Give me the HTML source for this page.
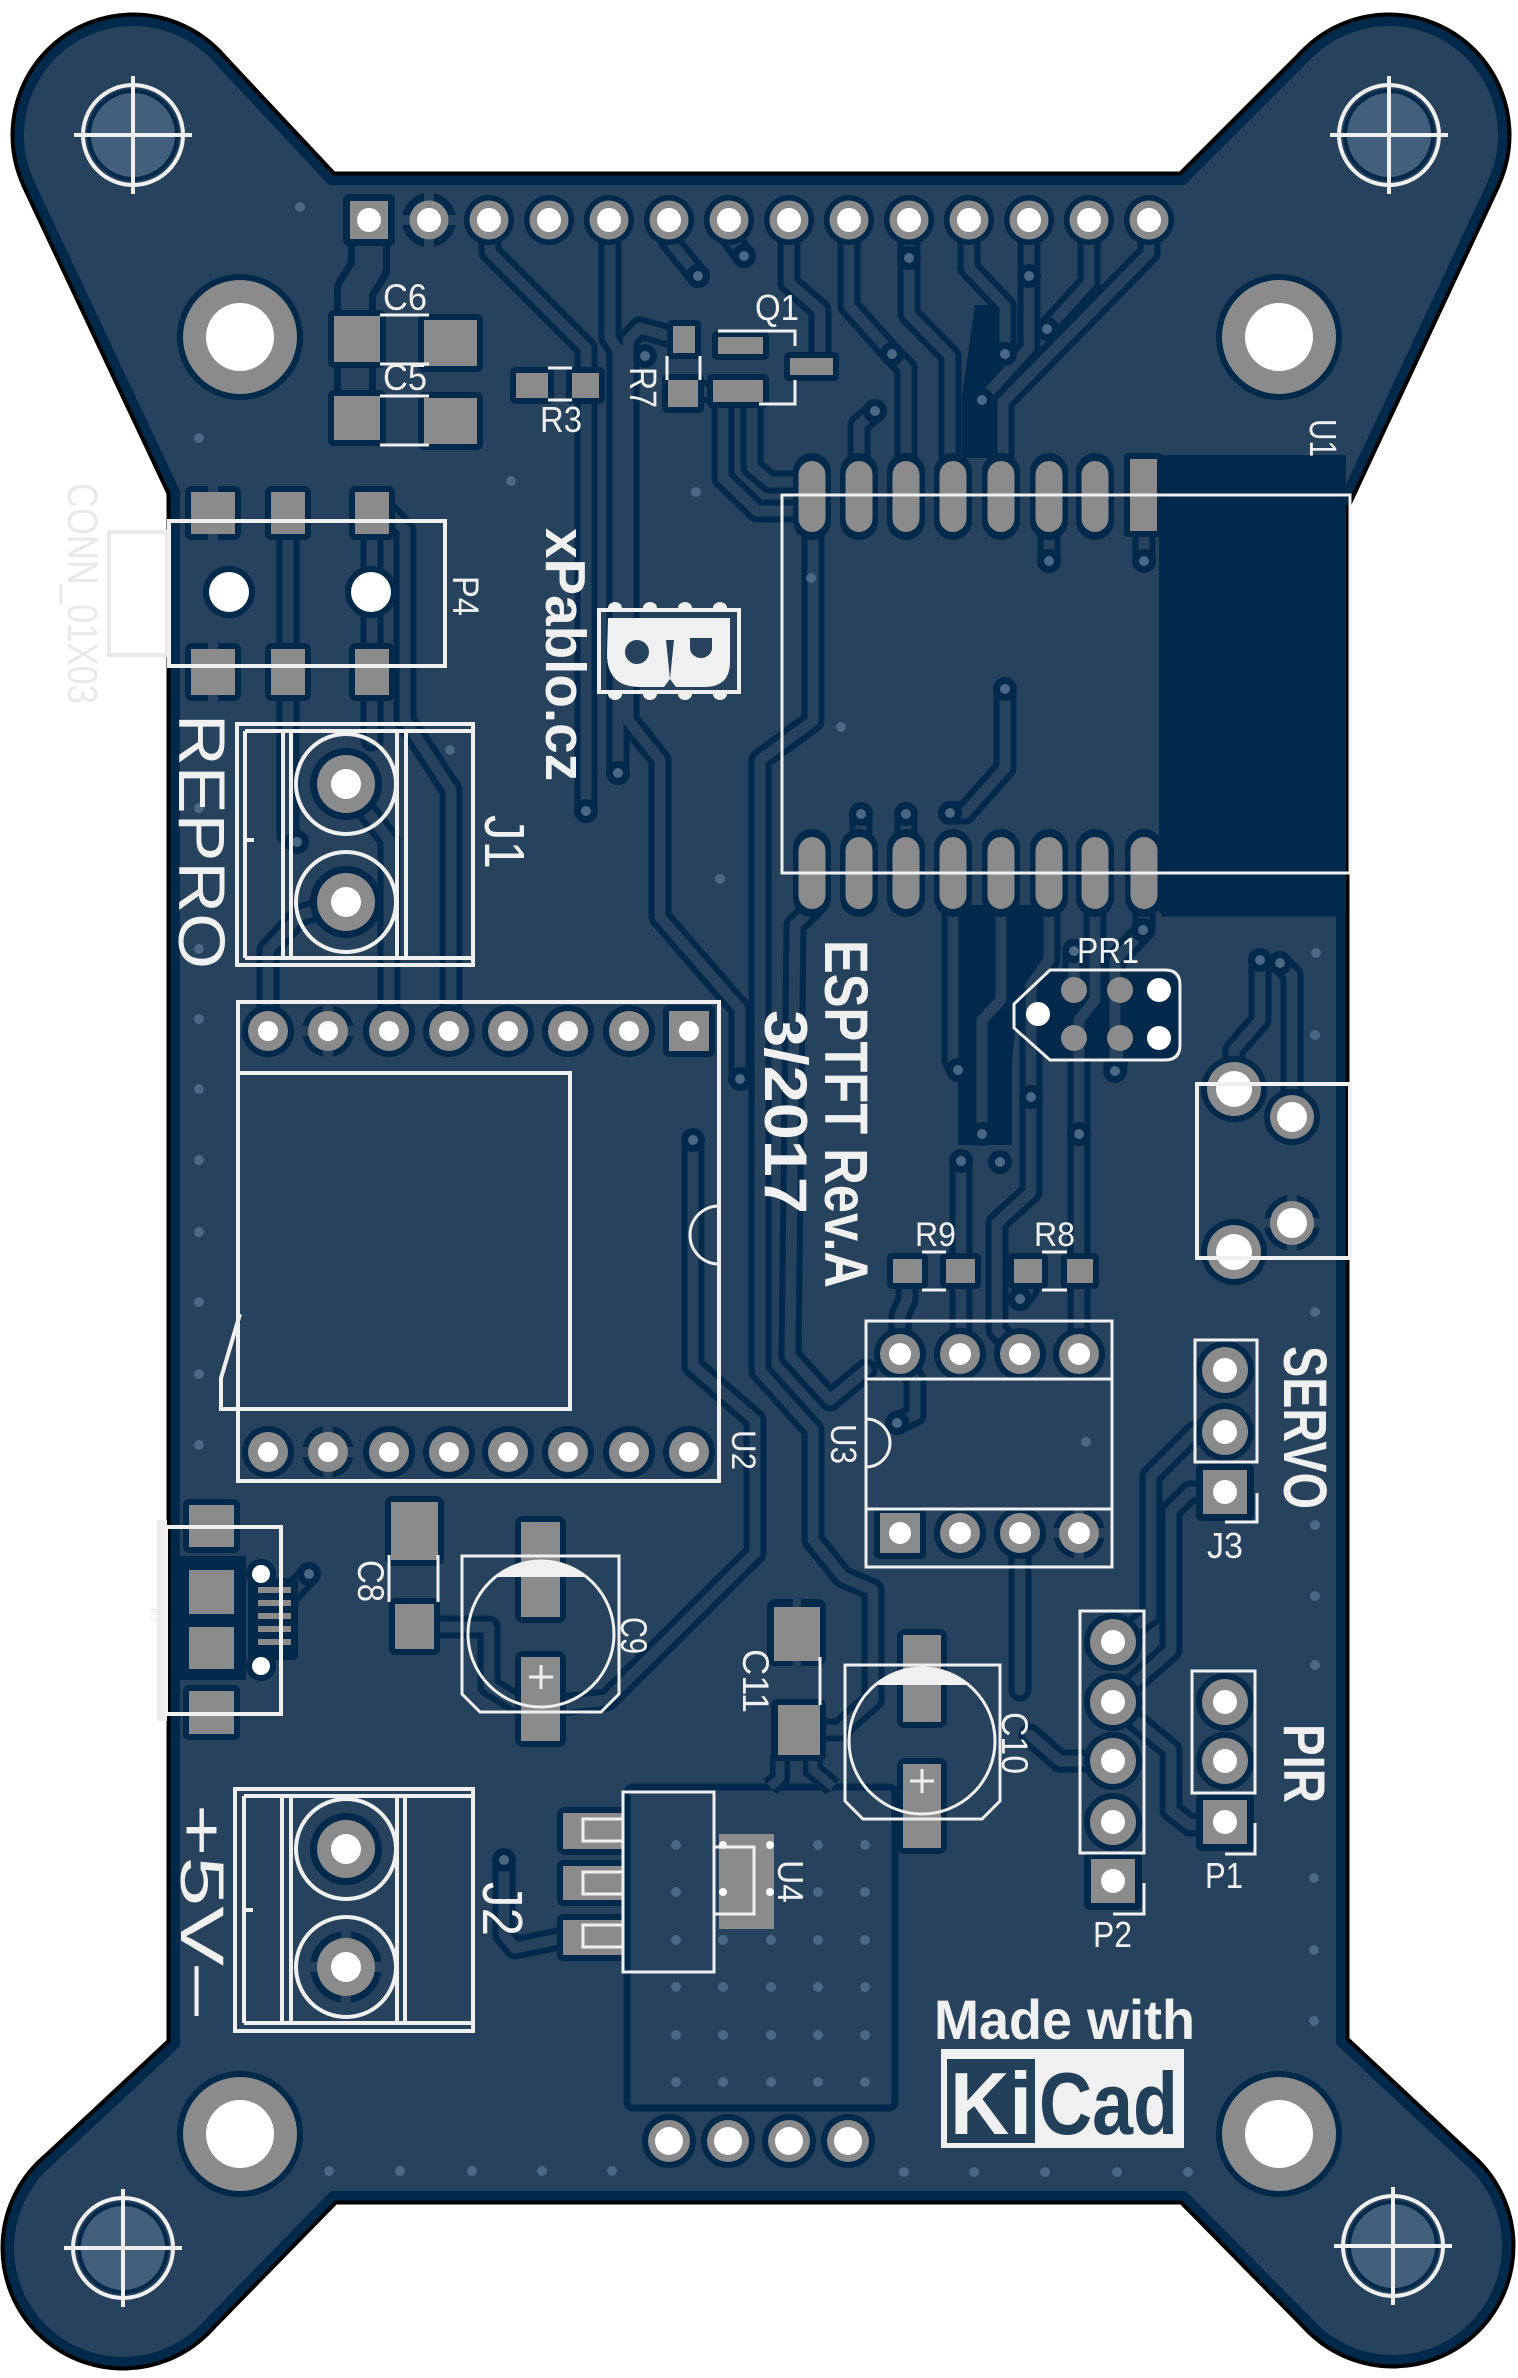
<!DOCTYPE html>
<html><head><meta charset="utf-8"><style>
html,body{margin:0;padding:0;background:#fff;}
svg{display:block;}
text{font-family:"Liberation Sans","DejaVu Sans",sans-serif;fill:#f0f0f0;}
.b{font-weight:bold;}
</style></head><body>
<svg width="1518" height="2378" viewBox="0 0 1518 2378" xmlns="http://www.w3.org/2000/svg">
<defs>
<g id="board">
<rect x="180" y="185" width="1156" height="2006"/>
<circle cx="133" cy="135" r="109"/><polygon points="210,58 329,185 180,491 34,181"/>
<circle cx="1389" cy="135" r="109"/><polygon points="1312,58 1185,185 1336,506 1488,181"/>
<circle cx="1393" cy="2246" r="109"/><polygon points="1470,2169 1336,2044 1186,2191 1316,2323"/>
<circle cx="123" cy="2248" r="109"/><polygon points="46,2171 180,2046 331,2191 200,2325"/>
</g>
<g id="tracks" fill="none" stroke-linejoin="round" stroke-linecap="round">
<path d="M490,220 L490,252 L586,348 L586,811"/>
<path d="M610,220 L610,338 L618,350 L618,773"/>
<path d="M669,220 L669,240 L698,276"/>
<path d="M729,220 L729,236 L744,256"/>
<path d="M789,220 L789,283 L820,310 L820,360"/>
<path d="M849,220 L849,306 L892,354 L906,368 L906,470"/>
<path d="M909,220 L909,314 L950,356 L950,470"/>
<path d="M969,220 L969,268 L1005,306 L1005,354"/>
<path d="M1029,220 L1029,348 L982,400"/>
<path d="M1089,220 L1089,283 L1047,329"/>
<path d="M1149,220 L1149,253 L1003,402 L1003,470"/>
<path d="M875,411 L859,425 L859,470"/>
<path d="M723,392 L723,478 L757,511 L800,511"/>
<path d="M752,392 L752,467 L770,482 L800,482"/>
<path d="M683,340 L640,328 L628,340 L628,720 L660,760 L660,917 L740,1009 L740,1079"/>
<path d="M683,393 L713,391"/>
<path d="M1049,532 L1049,561"/>
<path d="M1144,532 L1144,561"/>
<path d="M861,814 L861,840"/>
<path d="M906,814 L906,840"/>
<path d="M950,813 L965,813 L1005,768 L1005,689"/>
<path d="M953,909 L953,1060 L958,1070"/>
<path d="M1001,909 L1001,1000 L982,1020 L982,1134"/>
<path d="M1049,909 L1049,960 L1031,985 L1031,1192 L997,1223 L997,1330 L1020,1354"/>
<path d="M1095,909 L1095,1000 L1079,1020 L1079,1354"/>
<path d="M1144,909 L1144,930 L1115,960 L1115,1071"/>
<path d="M1280,963 L1292,975 L1292,1117"/>
<path d="M907,1271 L907,1300 L900,1315 L900,1354"/>
<path d="M961,1161 L961,1354"/>
<path d="M1028,1271 L1028,1290 L1020,1299"/>
<path d="M900,1354 L915,1380 L915,1415 L897,1423"/>
<path d="M1020,1533 L1020,1690"/>
<path d="M812,909 L795,925 L790,1356 L830,1400 L866,1370"/>
<path d="M813,532 L813,721 L760,760 L760,1371 L813,1430 L813,1540 L843,1577 L873,1590 L873,1700 L850,1720"/>
<path d="M693,1140 L693,1366 L755,1420 L755,1553 L607,1700 L560,1705"/>
<path d="M1225,1432 L1195,1432 L1151,1476 L1151,1615 L1113,1642"/>
<path d="M1113,1702 L1171,1750 L1171,1810 L1190,1825 L1225,1822"/>
<path d="M1225,1492 L1190,1492 L1171,1511 L1171,1650 L1113,1702"/>
<path d="M1113,1761 L1060,1761 L1030,1735"/>
<path d="M434,1627 L489,1627 L489,1686 L520,1705 L560,1705"/>
<path d="M285,1600 L309,1574"/>
<path d="M504,1860 L504,1935 L515,1948 L563,1938"/>
<path d="M288,513 L288,835 L297,842"/>
<path d="M372,513 L372,740"/>
<path d="M389,513 L405,530 L405,720 L451,790 L451,1031"/>
<path d="M268,1031 L268,950 L300,915 L346,902"/>
<path d="M346,784 L389,840 L389,1031"/>
<path d="M1074,990 L1074,951"/>
<path d="M1120,1038 L1115,1071"/>
<path d="M1234,1089 L1234,1050 L1260,1020 L1260,960"/>
<path d="M820,1730 L840,1730 L850,1720"/>
</g>
</defs>

<!-- board -->
<use href="#board" fill="#000" stroke="#000" stroke-width="27" stroke-linejoin="round"/>
<use href="#board" fill="#00294c" stroke="#00294c" stroke-width="19" stroke-linejoin="round"/>
<use href="#board" fill="#26425c"/>

<!-- dark copper-free regions -->
<g fill="#00294c">
<rect x="1159" y="455" width="187" height="458"/>
<polygon points="975,305 995,305 1012,350 1012,458 962,458 962,395"/>
<polygon points="960,905 1042,905 1042,960 1020,985 1012,1060 1012,1145 958,1145 958,1000"/>
<polygon points="1050,970 1168,970 1182,984 1182,1046 1168,1060 1050,1060 1014,1030 1014,1000"/>
<rect x="174" y="1556" width="72" height="124"/>
</g>
<rect x="627" y="1787" width="268" height="321" rx="6" fill="none" stroke="#00294c" stroke-width="7"/>
<path d="M1161,913 L1340,913" stroke="#00294c" stroke-width="7"/>
<path d="M780,1755 L780,1778 L770,1787 M813,1755 L813,1770 L833,1787" fill="none" stroke="#00294c" stroke-width="20"/>
<path d="M780,1755 L780,1778 L770,1787 M813,1755 L813,1770 L833,1787" fill="none" stroke="#26425c" stroke-width="9"/>

<!-- tracks -->
<path d="M369,238 L369,268 L355,290 L355,440" fill="none" stroke="#00294c" stroke-width="42" stroke-linejoin="round"/>
<path d="M369,238 L369,268 L355,290 L355,440" fill="none" stroke="#26425c" stroke-width="28" stroke-linejoin="round"/>
<use href="#tracks" stroke="#00294c" stroke-width="23"/>
<use href="#tracks" stroke="#26425c" stroke-width="11"/>

<!-- vias with clearance -->
<g fill="#00294c">
<circle cx="586" cy="811" r="12"/><circle cx="618" cy="773" r="12"/><circle cx="698" cy="276" r="12"/><circle cx="744" cy="256" r="12"/>
<circle cx="892" cy="354" r="12"/><circle cx="909" cy="258" r="12"/><circle cx="1005" cy="354" r="12"/><circle cx="1029" cy="276" r="12"/>
<circle cx="982" cy="400" r="12"/><circle cx="1047" cy="329" r="12"/><circle cx="875" cy="411" r="12"/><circle cx="740" cy="1079" r="12"/>
<circle cx="1049" cy="561" r="12"/><circle cx="1144" cy="561" r="12"/><circle cx="861" cy="814" r="12"/><circle cx="906" cy="814" r="12"/>
<circle cx="950" cy="813" r="12"/><circle cx="1005" cy="689" r="12"/><circle cx="958" cy="1070" r="12"/><circle cx="982" cy="1134" r="12"/>
<circle cx="1031" cy="1097" r="12"/><circle cx="1079" cy="1134" r="12"/><circle cx="961" cy="1161" r="12"/><circle cx="1000" cy="1162" r="12"/>
<circle cx="1115" cy="1071" r="12"/><circle cx="1143" cy="930" r="12"/><circle cx="1074" cy="951" r="12"/><circle cx="1280" cy="963" r="12"/>
<circle cx="1020" cy="1299" r="12"/><circle cx="897" cy="1423" r="12"/><circle cx="693" cy="1140" r="12"/><circle cx="297" cy="842" r="12"/>
<circle cx="309" cy="1574" r="12"/><circle cx="504" cy="1860" r="12"/><circle cx="645" cy="356" r="12"/><circle cx="1260" cy="960" r="12"/>
</g>
<g fill="#4b6985">
<circle cx="586" cy="811" r="5"/><circle cx="618" cy="773" r="5"/><circle cx="698" cy="276" r="5"/><circle cx="744" cy="256" r="5"/>
<circle cx="892" cy="354" r="5"/><circle cx="909" cy="258" r="5"/><circle cx="1005" cy="354" r="5"/><circle cx="1029" cy="276" r="5"/>
<circle cx="982" cy="400" r="5"/><circle cx="1047" cy="329" r="5"/><circle cx="875" cy="411" r="5"/><circle cx="740" cy="1079" r="5"/>
<circle cx="1049" cy="561" r="5"/><circle cx="1144" cy="561" r="5"/><circle cx="861" cy="814" r="5"/><circle cx="906" cy="814" r="5"/>
<circle cx="950" cy="813" r="5"/><circle cx="1005" cy="689" r="5"/><circle cx="958" cy="1070" r="5"/><circle cx="982" cy="1134" r="5"/>
<circle cx="1031" cy="1097" r="5"/><circle cx="1079" cy="1134" r="5"/><circle cx="961" cy="1161" r="5"/><circle cx="1000" cy="1162" r="5"/>
<circle cx="1115" cy="1071" r="5"/><circle cx="1143" cy="930" r="5"/><circle cx="1074" cy="951" r="5"/><circle cx="1280" cy="963" r="5"/>
<circle cx="1020" cy="1299" r="5"/><circle cx="897" cy="1423" r="5"/><circle cx="693" cy="1140" r="5"/><circle cx="297" cy="842" r="5"/>
<circle cx="309" cy="1574" r="5"/><circle cx="504" cy="1860" r="5"/><circle cx="645" cy="356" r="5"/><circle cx="1260" cy="960" r="5"/>
<circle cx="300" cy="207" r="5"/><circle cx="199" cy="438" r="5"/><circle cx="511" cy="481" r="5"/><circle cx="696" cy="492" r="5"/>
<circle cx="811" cy="578" r="5"/><circle cx="841" cy="727" r="5"/><circle cx="720" cy="879" r="5"/><circle cx="450" cy="750" r="5"/>
<circle cx="199" cy="808" r="5"/><circle cx="199" cy="949" r="5"/><circle cx="199" cy="1019" r="5"/><circle cx="199" cy="1089" r="5"/>
<circle cx="199" cy="1160" r="5"/><circle cx="199" cy="1232" r="5"/><circle cx="199" cy="1302" r="5"/><circle cx="199" cy="1374" r="5"/>
<circle cx="199" cy="1445" r="5"/><circle cx="1316" cy="953" r="5"/><circle cx="1315" cy="1035" r="5"/><circle cx="1315" cy="1312" r="5"/>
<circle cx="1315" cy="1525" r="5"/><circle cx="1315" cy="1596" r="5"/><circle cx="1315" cy="1665" r="5"/><circle cx="1314" cy="1878" r="5"/>
<circle cx="1314" cy="1950" r="5"/><circle cx="1314" cy="2021" r="5"/><circle cx="1086" cy="1442" r="5"/>
<circle cx="329" cy="2171" r="5"/><circle cx="400" cy="2171" r="5"/><circle cx="472" cy="2171" r="5"/><circle cx="542" cy="2171" r="5"/><circle cx="612" cy="2171" r="5"/>
<circle cx="904" cy="2172" r="5"/><circle cx="974" cy="2172" r="5"/><circle cx="1045" cy="2172" r="5"/><circle cx="1117" cy="2172" r="5"/><circle cx="1188" cy="2172" r="5"/>
<circle cx="676" cy="1845" r="5"/><circle cx="676" cy="1892" r="5"/><circle cx="676" cy="1940" r="5"/><circle cx="676" cy="1987" r="5"/><circle cx="676" cy="2035" r="5"/><circle cx="676" cy="2082" r="5"/>
<circle cx="723" cy="1940" r="5"/><circle cx="723" cy="1987" r="5"/><circle cx="723" cy="2035" r="5"/><circle cx="723" cy="2082" r="5"/>
<circle cx="771" cy="1940" r="5"/><circle cx="771" cy="1987" r="5"/><circle cx="771" cy="2035" r="5"/><circle cx="771" cy="2082" r="5"/>
<circle cx="818" cy="1845" r="5"/><circle cx="818" cy="1892" r="5"/><circle cx="818" cy="1940" r="5"/><circle cx="818" cy="1987" r="5"/><circle cx="818" cy="2035" r="5"/><circle cx="818" cy="2082" r="5"/>
<circle cx="865" cy="1845" r="5"/><circle cx="865" cy="1892" r="5"/><circle cx="865" cy="1940" r="5"/><circle cx="865" cy="1987" r="5"/><circle cx="865" cy="2035" r="5"/><circle cx="865" cy="2082" r="5"/>
</g>

<!-- HEADER top row -->
<g>
<rect x="343" y="194" width="52" height="52" rx="6" fill="#00294c"/>
<rect x="350" y="201" width="38" height="38" fill="#8b8b8b"/><circle cx="369" cy="220" r="12" fill="#fff"/>
<circle cx="429" cy="220" r="27" fill="#00294c"/>
<rect x="424" y="193" width="10" height="54" fill="#26425c"/><rect x="402" y="215" width="54" height="10" fill="#26425c"/>
<circle cx="429" cy="220" r="19.5" fill="#8b8b8b"/><circle cx="429" cy="220" r="12" fill="#fff"/>
</g>
<g fill="#00294c">
<circle cx="489" cy="220" r="25"/><circle cx="549" cy="220" r="25"/><circle cx="609" cy="220" r="25"/><circle cx="669" cy="220" r="25"/>
<circle cx="729" cy="220" r="25"/><circle cx="789" cy="220" r="25"/><circle cx="849" cy="220" r="25"/><circle cx="909" cy="220" r="25"/>
<circle cx="969" cy="220" r="25"/><circle cx="1029" cy="220" r="25"/><circle cx="1089" cy="220" r="25"/><circle cx="1149" cy="220" r="25"/>
</g>
<g fill="#8b8b8b">
<circle cx="489" cy="220" r="19.5"/><circle cx="549" cy="220" r="19.5"/><circle cx="609" cy="220" r="19.5"/><circle cx="669" cy="220" r="19.5"/>
<circle cx="729" cy="220" r="19.5"/><circle cx="789" cy="220" r="19.5"/><circle cx="849" cy="220" r="19.5"/><circle cx="909" cy="220" r="19.5"/>
<circle cx="969" cy="220" r="19.5"/><circle cx="1029" cy="220" r="19.5"/><circle cx="1089" cy="220" r="19.5"/><circle cx="1149" cy="220" r="19.5"/>
</g>
<g fill="#fff">
<circle cx="489" cy="220" r="12"/><circle cx="549" cy="220" r="12"/><circle cx="609" cy="220" r="12"/><circle cx="669" cy="220" r="12"/>
<circle cx="729" cy="220" r="12"/><circle cx="789" cy="220" r="12"/><circle cx="849" cy="220" r="12"/><circle cx="909" cy="220" r="12"/>
<circle cx="969" cy="220" r="12"/><circle cx="1029" cy="220" r="12"/><circle cx="1089" cy="220" r="12"/><circle cx="1149" cy="220" r="12"/>
</g>

<!-- SMD pads: C6 C5 R3 Q1 R7 -->
<g fill="#00294c">
<rect x="328" y="310" width="58" height="58" rx="6"/><rect x="418" y="314" width="65" height="58" rx="6"/>
<rect x="328" y="390" width="58" height="56" rx="6"/><rect x="418" y="392" width="65" height="58" rx="6"/>
<rect x="510" y="367" width="44" height="37" rx="6"/><rect x="566" y="367" width="39" height="37" rx="5"/>
<rect x="712" y="331" width="57" height="29" rx="5"/><rect x="707" y="374" width="62" height="34" rx="5"/><rect x="784" y="352" width="55" height="29" rx="5"/>
<rect x="667" y="320" width="34" height="39" rx="5"/><rect x="662" y="374" width="42" height="39" rx="5"/>
</g>
<g fill="#8b8b8b">
<rect x="334" y="316" width="46" height="46"/><rect x="424" y="320" width="53" height="46"/>
<rect x="334" y="396" width="46" height="44"/><rect x="424" y="398" width="53" height="46"/>
<rect x="516" y="373" width="32" height="25"/><rect x="572" y="373" width="27" height="25"/>
<rect x="718" y="337" width="45" height="17"/><rect x="713" y="380" width="50" height="22"/><rect x="790" y="358" width="43" height="17"/>
<rect x="673" y="326" width="22" height="27"/><rect x="668" y="380" width="30" height="27"/>
</g>

<!-- U1 pads -->
<g fill="#00294c">
<rect x="793" y="453" width="38" height="87" rx="19"/><rect x="840" y="453" width="38" height="87" rx="19"/><rect x="887" y="453" width="38" height="87" rx="19"/><rect x="934" y="453" width="38" height="87" rx="19"/>
<rect x="982" y="453" width="38" height="87" rx="19"/><rect x="1030" y="453" width="38" height="87" rx="19"/><rect x="1076" y="453" width="38" height="87" rx="19"/><rect x="1124" y="453" width="39" height="84" rx="4"/>
<rect x="793" y="829" width="38" height="88" rx="19"/><rect x="840" y="829" width="38" height="88" rx="19"/><rect x="887" y="829" width="38" height="88" rx="19"/><rect x="934" y="829" width="38" height="88" rx="19"/>
<rect x="982" y="829" width="38" height="88" rx="19"/><rect x="1030" y="829" width="38" height="88" rx="19"/><rect x="1076" y="829" width="38" height="88" rx="19"/><rect x="1125" y="829" width="38" height="88" rx="19"/>
</g>
<g fill="#8b8b8b">
<rect x="798.5" y="461" width="27" height="71" rx="13.5"/><rect x="845.5" y="461" width="27" height="71" rx="13.5"/><rect x="892.5" y="461" width="27" height="71" rx="13.5"/><rect x="939.5" y="461" width="27" height="71" rx="13.5"/>
<rect x="987.5" y="461" width="27" height="71" rx="13.5"/><rect x="1035.5" y="461" width="27" height="71" rx="13.5"/><rect x="1081.5" y="461" width="27" height="71" rx="13.5"/><rect x="1130" y="459" width="27" height="72"/>
<rect x="798.5" y="837" width="27" height="72" rx="13.5"/><rect x="845.5" y="837" width="27" height="72" rx="13.5"/><rect x="892.5" y="837" width="27" height="72" rx="13.5"/><rect x="939.5" y="837" width="27" height="72" rx="13.5"/>
<rect x="987.5" y="837" width="27" height="72" rx="13.5"/><rect x="1035.5" y="837" width="27" height="72" rx="13.5"/><rect x="1081.5" y="837" width="27" height="72" rx="13.5"/><rect x="1130.5" y="837" width="27" height="72" rx="13.5"/>
</g>

<!-- P4 -->
<g fill="#00294c">
<rect x="185" y="486" width="56" height="54" rx="7"/><rect x="265" y="486" width="46" height="54" rx="7"/><rect x="349" y="486" width="46" height="54" rx="7"/>
<rect x="185" y="643" width="56" height="58" rx="7"/><rect x="265" y="643" width="46" height="58" rx="7"/><rect x="349" y="643" width="46" height="58" rx="7"/>
<circle cx="229" cy="592" r="26"/><circle cx="371" cy="592" r="26"/>
</g>
<rect x="208" y="486" width="10" height="54" fill="#26425c"/><rect x="208" y="643" width="10" height="58" fill="#26425c"/>
<g fill="#8b8b8b">
<rect x="191" y="492" width="44" height="42"/><rect x="271" y="492" width="34" height="42"/><rect x="355" y="492" width="34" height="42"/>
<rect x="191" y="649" width="44" height="46"/><rect x="271" y="649" width="34" height="46"/><rect x="355" y="649" width="34" height="46"/>
</g>
<circle cx="229" cy="592" r="20" fill="#fff"/><circle cx="371" cy="592" r="20" fill="#fff"/>

<!-- J1 / J2 pads -->
<g fill="#00294c"><circle cx="346" cy="784" r="36"/><circle cx="346" cy="902" r="36"/><circle cx="346" cy="1849" r="36"/><circle cx="346" cy="1967" r="36"/></g>
<rect x="341" y="1929" width="10" height="76" fill="#26425c"/><rect x="308" y="1962" width="76" height="10" fill="#26425c"/>
<g fill="#8b8b8b"><circle cx="346" cy="784" r="29"/><circle cx="346" cy="902" r="29"/><circle cx="346" cy="1849" r="29"/><circle cx="346" cy="1967" r="29"/></g>
<g fill="#fff"><circle cx="346" cy="784" r="15"/><circle cx="346" cy="902" r="15"/><circle cx="346" cy="1849" r="15"/><circle cx="346" cy="1967" r="15"/></g>

<!-- U2 pads -->
<g fill="#00294c">
<circle cx="268" cy="1031" r="26"/><circle cx="328" cy="1031" r="26"/><circle cx="389" cy="1031" r="26"/><circle cx="449" cy="1031" r="26"/><circle cx="508" cy="1031" r="26"/><circle cx="568" cy="1031" r="26"/><circle cx="629" cy="1031" r="26"/><rect x="663" y="1005" width="52" height="52" rx="6"/>
<circle cx="268" cy="1452" r="26"/><circle cx="328" cy="1452" r="26"/><circle cx="389" cy="1452" r="26"/><circle cx="449" cy="1452" r="26"/><circle cx="508" cy="1452" r="26"/><circle cx="568" cy="1452" r="26"/><circle cx="629" cy="1452" r="26"/><circle cx="689" cy="1452" r="26"/>
</g>
<rect x="323" y="1004" width="10" height="54" fill="#26425c"/><rect x="301" y="1026" width="54" height="10" fill="#26425c"/>
<rect x="323" y="1425" width="10" height="54" fill="#26425c"/><rect x="301" y="1447" width="54" height="10" fill="#26425c"/>
<g fill="#8b8b8b">
<circle cx="268" cy="1031" r="20"/><circle cx="328" cy="1031" r="20"/><circle cx="389" cy="1031" r="20"/><circle cx="449" cy="1031" r="20"/><circle cx="508" cy="1031" r="20"/><circle cx="568" cy="1031" r="20"/><circle cx="629" cy="1031" r="20"/><rect x="669" y="1011" width="40" height="40"/>
<circle cx="268" cy="1452" r="20"/><circle cx="328" cy="1452" r="20"/><circle cx="389" cy="1452" r="20"/><circle cx="449" cy="1452" r="20"/><circle cx="508" cy="1452" r="20"/><circle cx="568" cy="1452" r="20"/><circle cx="629" cy="1452" r="20"/><circle cx="689" cy="1452" r="20"/>
</g>
<g fill="#fff">
<circle cx="268" cy="1031" r="10"/><circle cx="328" cy="1031" r="10"/><circle cx="389" cy="1031" r="10"/><circle cx="449" cy="1031" r="10"/><circle cx="508" cy="1031" r="10"/><circle cx="568" cy="1031" r="10"/><circle cx="629" cy="1031" r="10"/><circle cx="689" cy="1031" r="10"/>
<circle cx="268" cy="1452" r="10"/><circle cx="328" cy="1452" r="10"/><circle cx="389" cy="1452" r="10"/><circle cx="449" cy="1452" r="10"/><circle cx="508" cy="1452" r="10"/><circle cx="568" cy="1452" r="10"/><circle cx="629" cy="1452" r="10"/><circle cx="689" cy="1452" r="10"/>
</g>

<!-- PR1 pads -->
<g fill="#8b8b8b"><circle cx="1074" cy="990" r="13"/><circle cx="1120" cy="990" r="13"/><circle cx="1074" cy="1038" r="13"/><circle cx="1120" cy="1038" r="13"/></g>
<g fill="#fff"><circle cx="1159" cy="990" r="12"/><circle cx="1159" cy="1038" r="12"/><circle cx="1038" cy="1014" r="12"/></g>

<!-- jack pads -->
<g fill="#00294c"><circle cx="1234" cy="1089" r="33"/><circle cx="1234" cy="1252" r="33"/><circle cx="1292" cy="1117" r="28"/><circle cx="1292" cy="1223" r="28"/></g>
<rect x="1287" y="1193" width="10" height="60" fill="#26425c"/><rect x="1262" y="1218" width="60" height="10" fill="#26425c"/>
<g fill="#8b8b8b"><circle cx="1234" cy="1089" r="27"/><circle cx="1234" cy="1252" r="27"/><circle cx="1292" cy="1117" r="22"/><circle cx="1292" cy="1223" r="22"/></g>
<g fill="#fff"><circle cx="1234" cy="1089" r="18"/><circle cx="1234" cy="1252" r="18"/><circle cx="1292" cy="1117" r="15"/><circle cx="1292" cy="1223" r="15"/></g>

<!-- R9 R8 pads -->
<g fill="#00294c"><rect x="887" y="1253" width="41" height="36" rx="5"/><rect x="940" y="1253" width="41" height="36" rx="5"/><rect x="1008" y="1253" width="40" height="36" rx="5"/><rect x="1061" y="1253" width="38" height="36" rx="5"/></g>
<g fill="#8b8b8b"><rect x="893" y="1259" width="29" height="24"/><rect x="946" y="1259" width="29" height="24"/><rect x="1014" y="1259" width="28" height="24"/><rect x="1067" y="1259" width="26" height="24"/></g>

<!-- U3 pads -->
<g fill="#00294c">
<circle cx="900" cy="1354" r="26"/><circle cx="960" cy="1354" r="26"/><circle cx="1020" cy="1354" r="26"/><circle cx="1079" cy="1354" r="26"/>
<rect x="874" y="1507" width="52" height="52" rx="6"/><circle cx="960" cy="1533" r="26"/><circle cx="1020" cy="1533" r="26"/><circle cx="1079" cy="1533" r="26"/>
</g>
<rect x="1074" y="1506" width="10" height="54" fill="#26425c"/><rect x="1052" y="1528" width="54" height="10" fill="#26425c"/>
<g fill="#8b8b8b">
<circle cx="900" cy="1354" r="20"/><circle cx="960" cy="1354" r="20"/><circle cx="1020" cy="1354" r="20"/><circle cx="1079" cy="1354" r="20"/>
<rect x="880" y="1513" width="40" height="40"/><circle cx="960" cy="1533" r="20"/><circle cx="1020" cy="1533" r="20"/><circle cx="1079" cy="1533" r="20"/>
</g>
<g fill="#fff">
<circle cx="900" cy="1354" r="11"/><circle cx="960" cy="1354" r="11"/><circle cx="1020" cy="1354" r="11"/><circle cx="1079" cy="1354" r="11"/>
<circle cx="900" cy="1533" r="11"/><circle cx="960" cy="1533" r="11"/><circle cx="1020" cy="1533" r="11"/><circle cx="1079" cy="1533" r="11"/>
</g>

<!-- J3, P2, P1 headers -->
<g fill="#00294c">
<circle cx="1225" cy="1370" r="29"/><circle cx="1225" cy="1432" r="29"/><rect x="1196" y="1463" width="58" height="58" rx="6"/>
<circle cx="1113" cy="1642" r="29"/><circle cx="1113" cy="1702" r="29"/><circle cx="1113" cy="1761" r="29"/><circle cx="1113" cy="1822" r="29"/><rect x="1084" y="1852" width="58" height="58" rx="6"/>
<circle cx="1225" cy="1702" r="29"/><circle cx="1225" cy="1761" r="29"/><rect x="1196" y="1793" width="58" height="58" rx="6"/>
</g>
<g fill="#8b8b8b">
<circle cx="1225" cy="1370" r="23"/><circle cx="1225" cy="1432" r="23"/><rect x="1203" y="1470" width="44" height="44"/>
<circle cx="1113" cy="1642" r="23"/><circle cx="1113" cy="1702" r="23"/><circle cx="1113" cy="1761" r="23"/><circle cx="1113" cy="1822" r="23"/><rect x="1091" y="1859" width="44" height="44"/>
<circle cx="1225" cy="1702" r="23"/><circle cx="1225" cy="1761" r="23"/><rect x="1203" y="1800" width="44" height="44"/>
</g>
<g fill="#fff">
<circle cx="1225" cy="1370" r="12"/><circle cx="1225" cy="1432" r="12"/><circle cx="1225" cy="1492" r="12"/>
<circle cx="1113" cy="1642" r="12"/><circle cx="1113" cy="1702" r="12"/><circle cx="1113" cy="1761" r="12"/><circle cx="1113" cy="1822" r="12"/><circle cx="1113" cy="1881" r="12"/>
<circle cx="1225" cy="1702" r="12"/><circle cx="1225" cy="1761" r="12"/><circle cx="1225" cy="1822" r="12"/>
</g>

<!-- USB -->
<g fill="#00294c">
<rect x="183" y="1499" width="57" height="54" rx="6"/><rect x="183" y="1621" width="57" height="54" rx="6"/><rect x="183" y="1685" width="57" height="55" rx="6"/>
<rect x="248" y="1578" width="50" height="82" rx="5"/><circle cx="261" cy="1574" r="15"/><circle cx="261" cy="1666" r="15"/>
</g>
<g fill="#8b8b8b">
<rect x="189" y="1505" width="45" height="42"/><rect x="189" y="1570" width="45" height="44"/><rect x="189" y="1627" width="45" height="42"/><rect x="189" y="1691" width="45" height="43"/>
<rect x="258" y="1587" width="33" height="6"/><rect x="258" y="1600" width="33" height="6"/><rect x="258" y="1613" width="33" height="6"/><rect x="258" y="1626" width="33" height="6"/><rect x="258" y="1639" width="33" height="6"/>
</g>
<circle cx="261" cy="1574" r="9" fill="#fff"/><circle cx="261" cy="1666" r="9" fill="#fff"/>
<rect x="157" y="1520" width="10" height="201" fill="#ececec"/>

<!-- C8 C9 C10 C11 U4 pads -->
<g fill="#00294c">
<rect x="385" y="1496" width="59" height="70" rx="8"/><rect x="389" y="1598" width="51" height="57" rx="6"/>
<rect x="515" y="1516" width="51" height="107" rx="8"/><rect x="515" y="1651" width="51" height="96" rx="8"/>
<rect x="897" y="1629" width="50" height="99" rx="8"/><rect x="897" y="1758" width="50" height="96" rx="8"/>
<rect x="767" y="1599" width="59" height="67" rx="8"/><rect x="771" y="1699" width="55" height="62" rx="6"/>
<rect x="557" y="1807" width="71" height="48" rx="8"/><rect x="557" y="1860" width="71" height="46" rx="6"/><rect x="557" y="1914" width="71" height="47" rx="6"/>
</g>
<rect x="793" y="1599" width="8" height="67" fill="#26425c"/>
<g fill="#8b8b8b">
<rect x="391" y="1502" width="47" height="58"/><rect x="395" y="1604" width="39" height="45"/>
<rect x="521" y="1522" width="39" height="95"/><rect x="521" y="1657" width="39" height="84"/>
<rect x="903" y="1635" width="38" height="87"/><rect x="903" y="1764" width="38" height="84"/>
<rect x="774" y="1607" width="46" height="54"/><rect x="778" y="1705" width="42" height="50"/>
<rect x="563" y="1813" width="59" height="36"/><rect x="563" y="1866" width="59" height="34"/><rect x="563" y="1920" width="59" height="35"/>
<rect x="719" y="1834" width="55" height="95"/>
</g>
<g fill="#fff"><circle cx="723" cy="1845" r="4"/><circle cx="770" cy="1845" r="4"/><circle cx="723" cy="1892" r="4"/><circle cx="770" cy="1892" r="4"/></g>

<!-- bottom 4 pads -->
<g fill="#00294c"><circle cx="669" cy="2141" r="27"/><circle cx="728" cy="2141" r="27"/><circle cx="789" cy="2141" r="27"/><circle cx="848" cy="2141" r="27"/></g>
<g fill="#8b8b8b"><circle cx="669" cy="2141" r="21"/><circle cx="728" cy="2141" r="21"/><circle cx="789" cy="2141" r="21"/><circle cx="848" cy="2141" r="21"/></g>
<g fill="#fff"><circle cx="669" cy="2141" r="14"/><circle cx="728" cy="2141" r="14"/><circle cx="789" cy="2141" r="14"/><circle cx="848" cy="2141" r="14"/></g>

<!-- big mounting holes -->
<g fill="#00294c"><circle cx="240" cy="337" r="63"/><circle cx="1279" cy="337" r="63"/><circle cx="240" cy="2134" r="63"/><circle cx="1279" cy="2134" r="63"/></g>
<g fill="#8b8b8b"><circle cx="240" cy="337" r="57"/><circle cx="1279" cy="337" r="57"/><circle cx="240" cy="2134" r="57"/><circle cx="1279" cy="2134" r="57"/></g>
<g fill="#fff"><circle cx="240" cy="337" r="34"/><circle cx="1279" cy="337" r="34"/><circle cx="240" cy="2134" r="34"/><circle cx="1279" cy="2134" r="34"/></g>

<!-- crosshair holes -->
<g fill="#00294c"><circle cx="133" cy="135" r="46"/><circle cx="1389" cy="135" r="46"/><circle cx="123" cy="2248" r="46"/><circle cx="1393" cy="2246" r="46"/></g>
<g fill="#42607c"><circle cx="133" cy="135" r="42"/><circle cx="1389" cy="135" r="42"/><circle cx="123" cy="2248" r="42"/><circle cx="1393" cy="2246" r="42"/></g>
<g fill="none" stroke="#f0f0f0" stroke-width="4">
<circle cx="133" cy="135" r="50"/><path d="M74,135 H192 M133,76 V194"/>
<circle cx="1389" cy="135" r="50"/><path d="M1330,135 H1448 M1389,76 V194"/>
<circle cx="123" cy="2248" r="50"/><path d="M64,2248 H182 M123,2189 V2307"/>
<circle cx="1393" cy="2246" r="50"/><path d="M1334,2246 H1452 M1393,2187 V2305"/>
</g>

<!-- silkscreen lines -->
<g fill="none" stroke="#f0f0f0" stroke-width="4">
<rect x="109" y="532" width="58" height="123" stroke="#e9e9e9"/>
<rect x="169" y="521" width="276" height="145"/>
<rect x="237" y="724" width="236" height="241"/>
<path d="M245,731 V958 M283,731 V958 M291,731 V958 M397,731 V958 M406,731 V958 M245,731 H473 M245,958 H473 M245,840 H254"/>
<circle cx="346" cy="784" r="50"/><circle cx="346" cy="902" r="50"/>
<rect x="235" y="1789" width="238" height="242"/>
<path d="M244,1796 V2023 M282,1796 V2023 M291,1796 V2023 M397,1796 V2023 M405,1796 V2023 M244,1796 H473 M244,2023 H473 M244,1910 H253"/>
<circle cx="346" cy="1849" r="50"/><circle cx="346" cy="1967" r="50"/>
<rect x="238" y="1002" width="481" height="479"/>
<path d="M240,1073 L570,1073 L570,1409 L221,1409 L221,1378 L240,1314"/>
<path d="M719,1206 A29,29 0 0 0 719,1264" stroke-width="3"/>
<rect x="166" y="1527" width="115" height="187"/>
<path d="M389,1555 V1602 M438,1555 V1602" stroke-width="3"/>
<path d="M462,1556 H619 V1694 L601,1712 H480 L462,1694 Z" stroke-width="3"/>
<circle cx="541" cy="1634" r="73" stroke-width="3"/>
<path d="M529,1677 H553 M541,1665 V1689" stroke-width="3"/>
<path d="M845,1665 H1000 V1801 L982,1819 H863 L845,1801 Z" stroke-width="3"/>
<circle cx="922" cy="1741" r="73" stroke-width="3"/>
<path d="M910,1781 H934 M922,1769 V1793" stroke-width="3"/>
<path d="M820,1657 V1705" stroke-width="3"/>
<rect x="623" y="1792" width="91" height="180" stroke-width="3"/>
<rect x="583" y="1819" width="40" height="22" stroke-width="3"/><rect x="583" y="1872" width="40" height="22" stroke-width="3"/><rect x="583" y="1925" width="40" height="22" stroke-width="3"/>
<path d="M714,1847 H754 V1914 H714" stroke-width="3"/>
<rect x="782" y="495" width="568" height="378" stroke-width="3"/>
<path d="M380,315 H429 M380,364 H429 M380,396 H429 M380,445 H429" stroke-width="3"/>
<path d="M548,368 H572 M548,400 H572" stroke-width="3"/>
<path d="M667,356 V380 M700,356 V380" stroke-width="3"/>
<path d="M718,331 H795 V346 M795,380 V404 H759" stroke-width="3"/>
<path d="M1050,970 H1165 Q1180,970 1180,985 V1045 Q1180,1060 1165,1060 H1050 L1014,1028 V1004 Z" stroke-width="3"/>
<rect x="1197" y="1084" width="153" height="174"/>
<path d="M922,1252 H946 M922,1290 H946 M1042,1252 H1067 M1042,1290 H1067" stroke-width="3"/>
<rect x="866" y="1321" width="246" height="246" stroke-width="3"/>
<path d="M866,1379 H1112 M866,1509 H1112" stroke-width="3"/>
<path d="M866,1419 A24,24 0 0 1 866,1467" stroke-width="3"/>
<rect x="1195" y="1340" width="62" height="122" stroke-width="3"/>
<path d="M1257,1493 V1522 H1225" stroke-width="3"/>
<rect x="1080" y="1611" width="64" height="242" stroke-width="3"/>
<path d="M1144,1883 V1914 H1113" stroke-width="3"/>
<rect x="1192" y="1671" width="63" height="122" stroke-width="3"/>
<path d="M1255,1823 V1854 H1225" stroke-width="3"/>
<rect x="599" y="610" width="140" height="82" stroke-width="4"/>
</g>
<path d="M495.4,1577 A73,73 0 0 1 586.6,1577 Z" fill="#f0f0f0"/>
<path d="M876,1685 A73,73 0 0 1 968,1685 Z" fill="#f0f0f0"/>

<!-- B logo -->
<path d="M608,618 H730 V662 Q730,687 704,687 H676 L670,679 L664,687 H640 Q607,687 607,654 Z" fill="#f0f0f0"/>
<ellipse cx="637" cy="652" rx="12" ry="12" fill="#26425c"/>
<path d="M690,638 H712 V648 A11,10 0 0 1 690,648 Z" fill="#26425c"/>
<path d="M666,640 L670,679 L674,640 Z" fill="#26425c"/>
<g fill="#f0f0f0">
<path d="M608,608 a7,6 0 0 1 14,0 Z M643,608 a7,6 0 0 1 14,0 Z M678,608 a7,6 0 0 1 14,0 Z M713,608 a7,6 0 0 1 14,0 Z"/>
<path d="M608,694 a7,6 0 0 0 14,0 Z M643,694 a7,6 0 0 0 14,0 Z M678,694 a7,6 0 0 0 14,0 Z M713,694 a7,6 0 0 0 14,0 Z"/>
</g>

<!-- KiCad logo -->
<rect x="941" y="2049" width="243" height="99" fill="#f0f0f0"/>
<rect x="947" y="2059" width="88" height="84" fill="#23405b"/>
<text x="950" y="2134" class="b" font-size="88" textLength="82" lengthAdjust="spacingAndGlyphs">Ki</text>
<text x="1039" y="2134" class="b" font-size="88" textLength="139" lengthAdjust="spacingAndGlyphs" style="fill:#23405b">Cad</text>
<text x="934" y="2039" class="b" font-size="56" textLength="261" lengthAdjust="spacingAndGlyphs">Made with</text>

<!-- horizontal labels -->
<text x="383" y="310" font-size="37" textLength="44" lengthAdjust="spacingAndGlyphs">C6</text>
<text x="383" y="390" font-size="37" textLength="44" lengthAdjust="spacingAndGlyphs">C5</text>
<text x="540" y="432" font-size="36" textLength="42" lengthAdjust="spacingAndGlyphs">R3</text>
<text x="755" y="320" font-size="36" textLength="44" lengthAdjust="spacingAndGlyphs">Q1</text>
<text x="1077" y="963" font-size="36" textLength="62" lengthAdjust="spacingAndGlyphs">PR1</text>
<text x="915" y="1246" font-size="34" textLength="41" lengthAdjust="spacingAndGlyphs">R9</text>
<text x="1034" y="1246" font-size="34" textLength="41" lengthAdjust="spacingAndGlyphs">R8</text>
<text x="1207" y="1558" font-size="36" textLength="36" lengthAdjust="spacingAndGlyphs">J3</text>
<text x="1205" y="1888" font-size="36" textLength="38" lengthAdjust="spacingAndGlyphs">P1</text>
<text x="1093" y="1947" font-size="36" textLength="39" lengthAdjust="spacingAndGlyphs">P2</text>

<!-- rotated labels -->
<text transform="translate(68,483) rotate(90)" font-size="43" textLength="221" lengthAdjust="spacingAndGlyphs" style="fill:#e9e9e9">CONN_01X03</text>
<text transform="translate(453,576) rotate(90)" font-size="37" textLength="40" lengthAdjust="spacingAndGlyphs">P4</text>
<text transform="translate(179,714) rotate(90)" font-size="66" textLength="255" lengthAdjust="spacingAndGlyphs">REPRO</text>
<text transform="translate(485,815) rotate(90)" font-size="57" textLength="54" lengthAdjust="spacingAndGlyphs">J1</text>
<text transform="translate(546,528) rotate(90)" class="b" font-size="57" textLength="253" lengthAdjust="spacingAndGlyphs">xPablo.cz</text>
<text transform="translate(825,940) rotate(90)" class="b" font-size="61" textLength="348" lengthAdjust="spacingAndGlyphs">ESPTFT Rev.A</text>
<text transform="translate(765,1010) rotate(90)" class="b" font-size="60" textLength="204" lengthAdjust="spacingAndGlyphs">3/2017</text>
<text transform="translate(1310,419) rotate(90)" font-size="38" textLength="38" lengthAdjust="spacingAndGlyphs">U1</text>
<text transform="translate(630,367) rotate(90)" font-size="38" textLength="41" lengthAdjust="spacingAndGlyphs">R7</text>
<text transform="translate(732,1430) rotate(90)" font-size="34" textLength="40" lengthAdjust="spacingAndGlyphs">U2</text>
<text transform="translate(831,1424) rotate(90)" font-size="36" textLength="40" lengthAdjust="spacingAndGlyphs">U3</text>
<text transform="translate(778,1860) rotate(90)" font-size="36" textLength="43" lengthAdjust="spacingAndGlyphs">U4</text>
<text transform="translate(358,1560) rotate(90)" font-size="37" textLength="42" lengthAdjust="spacingAndGlyphs">C8</text>
<text transform="translate(621,1617) rotate(90)" font-size="37" textLength="37" lengthAdjust="spacingAndGlyphs">C9</text>
<text transform="translate(1002,1712) rotate(90)" font-size="37" textLength="62" lengthAdjust="spacingAndGlyphs">C10</text>
<text transform="translate(743,1649) rotate(90)" font-size="37" textLength="64" lengthAdjust="spacingAndGlyphs">C11</text>
<text transform="translate(483,1882) rotate(90)" font-size="57" textLength="54" lengthAdjust="spacingAndGlyphs">J2</text>
<text transform="translate(1284,1346) rotate(90)" class="b" font-size="61" textLength="163" lengthAdjust="spacingAndGlyphs">SERVO</text>
<text transform="translate(1284,1724) rotate(90)" class="b" font-size="58" textLength="79" lengthAdjust="spacingAndGlyphs">PIR</text>
<text transform="translate(181,1804) rotate(90)" font-size="61" textLength="212" lengthAdjust="spacingAndGlyphs">+5V–</text>
<text transform="translate(150,1608) rotate(90)" font-size="10" textLength="14" lengthAdjust="spacingAndGlyphs" style="fill:#ececec">P3</text>
</svg>
</body></html>
